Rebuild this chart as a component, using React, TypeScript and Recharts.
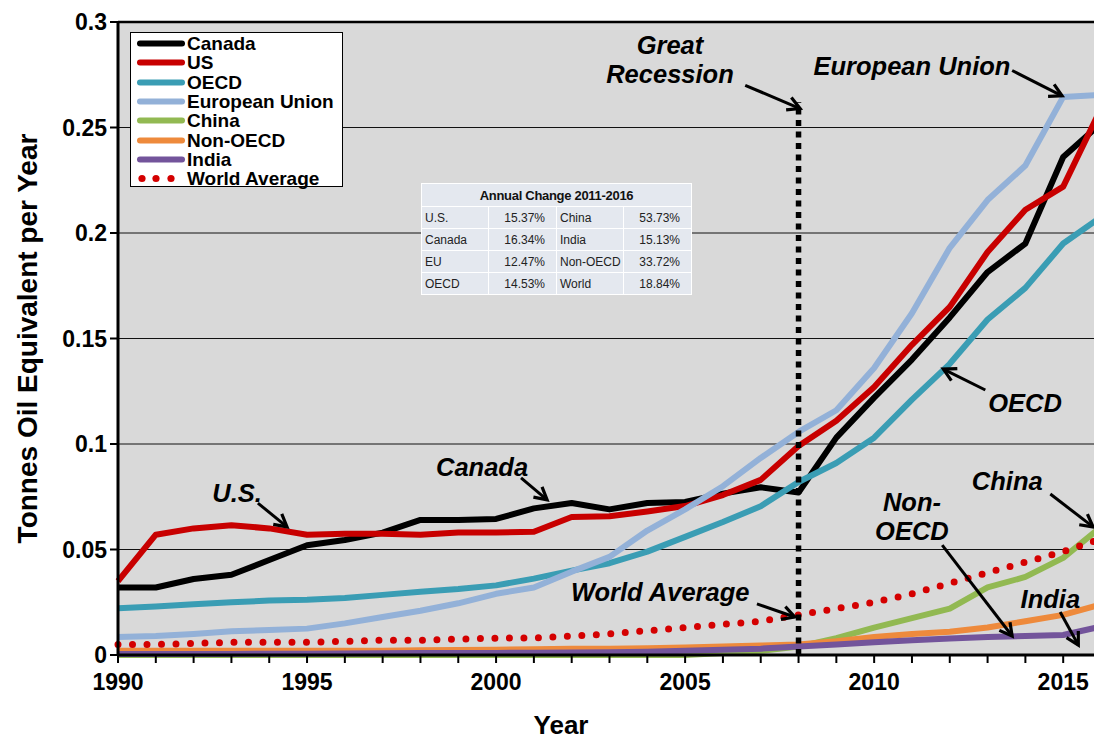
import React from 'react';
import { LineChart, Line, XAxis, YAxis, CartesianGrid, ReferenceLine, ReferenceDot } from 'recharts';

const FONT = '"Liberation Sans", Arial, Helvetica, sans-serif';

const years = [1990, 1991, 1992, 1993, 1994, 1995, 1996, 1997, 1998, 1999, 2000, 2001, 2002, 2003, 2004, 2005, 2006, 2007, 2008, 2009, 2010, 2011, 2012, 2013, 2014, 2015, 2016];
const canada = [0.032, 0.032, 0.036, 0.038, 0.045, 0.052, 0.0545, 0.058, 0.064, 0.064, 0.0645, 0.0695, 0.072, 0.069, 0.072, 0.0725, 0.0765, 0.0795, 0.077, 0.103, 0.122, 0.140, 0.160, 0.1815, 0.195, 0.236, 0.252];
const us = [0.035, 0.057, 0.060, 0.0615, 0.060, 0.057, 0.0575, 0.0575, 0.057, 0.058, 0.058, 0.0584, 0.0654, 0.0658, 0.068, 0.0706, 0.0758, 0.083, 0.099, 0.111, 0.127, 0.147, 0.165, 0.191, 0.211, 0.222, 0.259];
const oecd = [0.0222, 0.023, 0.024, 0.025, 0.0258, 0.0262, 0.027, 0.0285, 0.030, 0.0313, 0.033, 0.0362, 0.040, 0.0435, 0.049, 0.056, 0.063, 0.0705, 0.082, 0.091, 0.103, 0.121, 0.138, 0.159, 0.174, 0.195, 0.2076];
const eu = [0.0085, 0.009, 0.010, 0.0112, 0.0118, 0.0125, 0.015, 0.018, 0.021, 0.0245, 0.029, 0.032, 0.0395, 0.0465, 0.059, 0.069, 0.080, 0.0934, 0.1057, 0.116, 0.136, 0.162, 0.193, 0.2156, 0.232, 0.2645, 0.2655];
const china = [0, 0, 0, 0, 0, 0, 0, 0, 0, 0, 0, 0, 0, 0, 0, 0, 0.001, 0.002, 0.004, 0.008, 0.013, 0.0175, 0.022, 0.032, 0.037, 0.046, 0.0607];
const nonOecd = [0.002, 0.002, 0.002, 0.002, 0.002, 0.002, 0.002, 0.002, 0.0022, 0.0024, 0.0025, 0.0027, 0.003, 0.003, 0.0032, 0.0035, 0.004, 0.0045, 0.005, 0.0065, 0.0085, 0.010, 0.011, 0.013, 0.016, 0.019, 0.024];
const india = [0.0005, 0.0005, 0.0005, 0.0005, 0.0006, 0.0006, 0.0007, 0.0008, 0.0009, 0.001, 0.001, 0.0011, 0.0012, 0.0013, 0.0015, 0.002, 0.0025, 0.003, 0.004, 0.005, 0.006, 0.007, 0.0078, 0.0085, 0.009, 0.0095, 0.0135];
const world = [0.005, 0.005, 0.0055, 0.006, 0.006, 0.006, 0.0065, 0.007, 0.007, 0.0075, 0.008, 0.008, 0.009, 0.010, 0.0115, 0.013, 0.0145, 0.016, 0.019, 0.022, 0.025, 0.029, 0.034, 0.039, 0.044, 0.049, 0.055];

const yTicks = [0, 0.05, 0.1, 0.15, 0.2, 0.25, 0.3];

const seriesKeys = ['canada', 'us', 'oecd', 'eu', 'china', 'nonOecd', 'india', 'world'];
const seriesNames = ['Canada', 'US', 'OECD', 'European Union', 'China', 'Non-OECD', 'India', 'World Average'];
const seriesColors = ['#000000', '#c80000', '#3a9db4', '#93b1d8', '#92b952', '#ee8a3c', '#73549b', '#d40000'];

const tableTitle = 'Annual Change 2011-2016';
const tableLabelsA = ['U.S.', 'Canada', 'EU', 'OECD'];
const tableValuesA = ['15.37%', '16.34%', '12.47%', '14.53%'];
const tableLabelsB = ['China', 'India', 'Non-OECD', 'World'];
const tableValuesB = ['53.73%', '15.13%', '33.72%', '18.84%'];

// annotation texts: lines, anchor year, anchor value (center of first line)
const annotations = [
  { lines: ['Great', 'Recession'], year: 2004.6, value: 0.289, size: 25.5 },
  { lines: ['European Union'], year: 2011.0, value: 0.279, size: 25.5 },
  { lines: ['Canada'], year: 1999.63, value: 0.0891, size: 25.5 },
  { lines: ['U.S.'], year: 1993.15, value: 0.0768, size: 25.5 },
  { lines: ['OECD'], year: 2013.99, value: 0.1194, size: 25.5 },
  { lines: ['Non-', 'OECD'], year: 2011.0, value: 0.0725, size: 25.5 },
  { lines: ['China'], year: 2013.52, value: 0.0825, size: 25.5 },
  { lines: ['India'], year: 2014.66, value: 0.0265, size: 25.5 },
  { lines: ['World Average'], year: 2004.34, value: 0.0299, size: 25.5 },
];

// arrows: from (year, value) to (year, value)
const arrows = [
  { from: [2006.59, 0.270], to: [2008.04, 0.259] },
  { from: [2013.65, 0.277], to: [2014.97, 0.265] },
  { from: [2000.66, 0.0839], to: [2001.35, 0.0735] },
  { from: [1993.7, 0.072], to: [1994.47, 0.0607] },
  { from: [2012.94, 0.1256], to: [2011.83, 0.1355] },
  { from: [2011.8, 0.0521], to: [2013.65, 0.009] },
  { from: [2014.66, 0.0763], to: [2015.79, 0.0607] },
  { from: [2014.92, 0.0204], to: [2015.4, 0.0047] },
  { from: [2006.9, 0.0242], to: [2007.9, 0.018] },
];

const recessionYear = 2008;
const recessionTop = 0.262;

const data = years.map((year, i) => ({
  year,
  canada: canada[i],
  us: us[i],
  oecd: oecd[i],
  eu: eu[i],
  china: china[i],
  nonOecd: nonOecd[i],
  india: india[i],
  world: world[i],
}));

const ArrowShape = (p: any) => {
  const { x1, y1, x2, y2 } = p;
  const ang = Math.atan2(y2 - y1, x2 - x1);
  const L = 14;
  const spread = 0.5;
  const ax1 = x2 - L * Math.cos(ang - spread);
  const ay1 = y2 - L * Math.sin(ang - spread);
  const ax2 = x2 - L * Math.cos(ang + spread);
  const ay2 = y2 - L * Math.sin(ang + spread);
  return (
    <g>
      <line x1={x1} y1={y1} x2={x2} y2={y2} stroke="#000" strokeWidth={3} />
      <polyline points={`${ax1},${ay1} ${x2},${y2} ${ax2},${ay2}`} fill="none" stroke="#000" strokeWidth={3.2} strokeLinejoin="miter" />
    </g>
  );
};

const makeTextShape = (lines: string[], size: number) => (p: any) => (
  <text
    x={p.cx}
    y={p.cy}
    textAnchor="middle"
    fontFamily={FONT}
    fontSize={size}
    fontWeight="bold"
    fontStyle="italic"
    fill="#000"
  >
    {lines.map((l, i) => (
      <tspan key={i} x={p.cx} dy={i === 0 ? '0.36em' : 29}>
        {l}
      </tspan>
    ))}
  </text>
);

const YTitle = (props: any) => {
  const vb = props.viewBox || { x: 0, y: 22, width: 118, height: 633 };
  const cx = vb.x + 27;
  const cy = vb.y + vb.height / 2;
  return (
    <text
      x={cx}
      y={cy}
      transform={`rotate(-90, ${cx}, ${cy})`}
      textAnchor="middle"
      dominantBaseline="central"
      fontFamily={FONT}
      fontSize={28}
      fontWeight="bold"
      fill="#000"
    >
      Tonnes Oil Equivalent per Year
    </text>
  );
};

const XTitle = (props: any) => {
  const vb = props.viewBox || { x: 118, y: 655, width: 983, height: 50 };
  return (
    <text
      x={vb.x + 443}
      y={vb.y + 70}
      textAnchor="middle"
      dominantBaseline="central"
      fontFamily={FONT}
      fontSize={26}
      fontWeight="bold"
      fill="#000"
    >
      Year
    </text>
  );
};

const LegendBox = () => (
  <div
    style={{
      position: 'absolute',
      left: 130,
      top: 32,
      width: 211,
      height: 153,
      border: '1.5px solid #000',
      background: '#fff',
      fontFamily: FONT,
      boxSizing: 'content-box',
    }}
  >
    {seriesNames.map((name, i) => (
      <div
        key={name}
        style={{ position: 'absolute', left: 0, top: 1 + i * 19.3, height: 19, display: 'flex', alignItems: 'center' }}
      >
        <svg width={56} height={19} style={{ display: 'block' }}>
          {seriesKeys[i] === 'world' ? (
            [11, 25, 40].map((cx) => <circle key={cx} cx={cx} cy={9.5} r={3.6} fill={seriesColors[i]} />)
          ) : (
            <line x1={9} y1={9.5} x2={51} y2={9.5} stroke={seriesColors[i]} strokeWidth={6} strokeLinecap="round" />
          )}
        </svg>
        <span style={{ fontSize: 19, fontWeight: 'bold', color: '#000', lineHeight: '19px', whiteSpace: 'nowrap' }}>{name}</span>
      </div>
    ))}
  </div>
);

const cellBase: React.CSSProperties = {
  border: '1.5px solid #ffffff',
  padding: 0,
  height: 21,
  fontSize: 12,
  fontFamily: FONT,
  color: '#222',
  background: '#e4e8ef',
};

const ChangeTable = () => (
  <table
    style={{
      position: 'absolute',
      left: 421,
      top: 183,
      width: 270,
      borderCollapse: 'collapse',
      tableLayout: 'fixed',
    }}
  >
    <colgroup>
      <col style={{ width: 67 }} />
      <col style={{ width: 68 }} />
      <col style={{ width: 67 }} />
      <col style={{ width: 68 }} />
    </colgroup>
    <tbody>
      <tr>
        <td colSpan={4} style={{ ...cellBase, height: 22, fontSize: 13, fontWeight: 'bold', textAlign: 'center', color: '#111', letterSpacing: '-0.3px' }}>
          {tableTitle}
        </td>
      </tr>
      {tableLabelsA.map((lab, i) => (
        <tr key={lab}>
          <td style={{ ...cellBase, paddingLeft: 3 }}>{tableLabelsA[i]}</td>
          <td style={{ ...cellBase, textAlign: 'right', paddingRight: 11 }}>{tableValuesA[i]}</td>
          <td style={{ ...cellBase, paddingLeft: 3 }}>{tableLabelsB[i]}</td>
          <td style={{ ...cellBase, textAlign: 'right', paddingRight: 11 }}>{tableValuesB[i]}</td>
        </tr>
      ))}
    </tbody>
  </table>
);

export default function App() {
  return (
    <div
      style={{
        position: 'absolute',
        left: 0,
        top: 0,
        width: 1094,
        height: 743,
        overflow: 'hidden',
        background: '#fff',
      }}
    >
      <LineChart width={1110} height={743} data={data} margin={{ top: 22, right: 9, bottom: 38, left: 0 }}>
        <CartesianGrid vertical={false} stroke="#111" strokeWidth={1} fill="#d9d9d9" />
        <XAxis
          dataKey="year"
          type="number"
          domain={[1990, 2016]}
          ticks={years}
          interval={0}
          tickFormatter={(v: number) => (v % 5 === 0 ? String(v) : '')}
          height={50}
          tickSize={8}
          tickMargin={11}
          axisLine={{ stroke: '#000', strokeWidth: 3 }}
          tickLine={{ stroke: '#000', strokeWidth: 2 }}
          tick={{ fontSize: 23, fontWeight: 'bold', fill: '#000', fontFamily: FONT }}
          label={{ content: XTitle }}
        />
        <YAxis
          type="number"
          domain={[0, 0.3]}
          ticks={yTicks}
          interval={0}
          width={118}
          tickSize={8}
          tickMargin={3}
          tickFormatter={(v: number) => String(v)}
          axisLine={{ stroke: '#000', strokeWidth: 3 }}
          tickLine={{ stroke: '#000', strokeWidth: 2 }}
          tick={{ fontSize: 23, fontWeight: 'bold', fill: '#000', fontFamily: FONT }}
          label={{ content: YTitle }}
        />
        <ReferenceLine y={0.3} stroke="#000" strokeWidth={2.5} ifOverflow="visible" />
        {seriesKeys.map((k, i) =>
          k === 'world' ? (
            <Line
              key={k}
              dataKey={k}
              name={seriesNames[i]}
              type="linear"
              stroke={seriesColors[i]}
              strokeWidth={7}
              strokeDasharray="0 14.5"
              strokeLinecap="round"
              dot={false}
              activeDot={false}
              isAnimationActive={false}
            />
          ) : (
            <Line
              key={k}
              dataKey={k}
              name={seriesNames[i]}
              type="linear"
              stroke={seriesColors[i]}
              strokeWidth={6}
              strokeLinejoin="round"
              dot={false}
              activeDot={false}
              isAnimationActive={false}
            />
          )
        )}
        <ReferenceLine
          segment={[
            { x: recessionYear, y: 0 },
            { x: recessionYear, y: recessionTop },
          ]}
          stroke="#000"
          strokeWidth={5.5}
          strokeDasharray="6 5.5"
          ifOverflow="visible"
        />
        {arrows.map((a, i) => (
          <ReferenceLine
            key={'arrow' + i}
            segment={[
              { x: a.from[0], y: a.from[1] },
              { x: a.to[0], y: a.to[1] },
            ]}
            ifOverflow="visible"
            shape={ArrowShape}
          />
        ))}
        {annotations.map((a, i) => (
          <ReferenceDot
            key={'ann' + i}
            x={a.year}
            y={a.value}
            r={0}
            ifOverflow="visible"
            shape={makeTextShape(a.lines, a.size)}
          />
        ))}
      </LineChart>
      <LegendBox />
      <ChangeTable />
    </div>
  );
}
